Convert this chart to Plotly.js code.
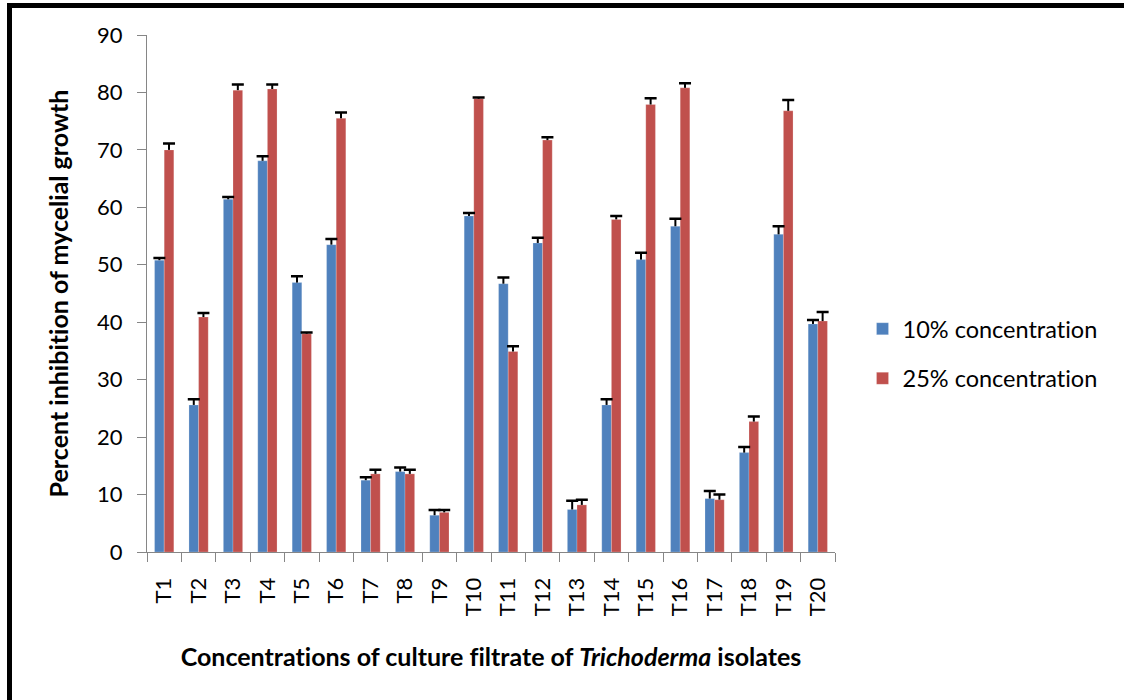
<!DOCTYPE html>
<html>
<head>
<meta charset="utf-8">
<script src="https://cdn.plot.ly/plotly-3.0.1.min.js"></script>
<style>
  html, body { margin: 0; padding: 0; background: #fff; }
  #wrap { position: relative; width: 1124px; height: 700px; overflow: hidden; }
  #chart { width: 1124px; height: 700px; }
  #chart text { font-variant-ligatures: none; font-feature-settings: "liga" 0, "clig" 0; }
  #frame { position: absolute; top: 3px; left: 7px; right: -10px; bottom: -10px;
           border-top: 5px solid #000; border-left: 5px solid #000; pointer-events: none; }
</style>
</head>
<body>
<div id="wrap">
  <div id="chart"></div>
  <div id="frame"></div>
</div>
<script>
// Categories (Trichoderma isolates)
const isolates = ["T1","T2","T3","T4","T5","T6","T7","T8","T9","T10",
                  "T11","T12","T13","T14","T15","T16","T17","T18","T19","T20"];

// Percent inhibition at 10% concentration
const conc10 = [50.8, 25.6, 61.4, 68.1, 46.9, 53.5, 12.5, 14.0, 6.4, 58.5,
                46.7, 53.8, 7.4, 25.6, 50.9, 56.7, 9.3, 17.3, 55.3, 39.7];
// Error (plus) at 10% concentration
const err10 = [0.4, 1.0, 0.4, 0.8, 1.1, 1.0, 0.5, 0.7, 0.9, 0.5,
               1.1, 0.9, 1.5, 1.0, 1.2, 1.3, 1.3, 1.0, 1.4, 0.7];

// Percent inhibition at 25% concentration
const conc25 = [70.0, 40.9, 80.4, 80.6, 38.0, 75.5, 13.6, 13.6, 6.9, 78.9,
                34.9, 71.7, 8.2, 57.9, 77.9, 80.8, 9.1, 22.7, 76.8, 40.2];
// Error (plus) at 25% concentration
const err25 = [1.1, 0.7, 1.0, 0.8, 0.2, 1.0, 0.7, 0.7, 0.4, 0.2,
               0.9, 0.5, 0.9, 0.6, 1.1, 0.8, 0.9, 0.9, 1.9, 1.6];

const seriesNames = ["10% concentration", "25% concentration"];
const yTicks = [0, 10, 20, 30, 40, 50, 60, 70, 80, 90];

const FONT = "Lato, 'Open Sans', 'DejaVu Sans', sans-serif";
const COLORS = ['#4F81BD', '#C0504D'];

// whisker only (no caps), going up from the bar top
function whisker(arr) {
  return { type: 'data', symmetric: false, array: arr, arrayminus: arr.map(() => 0),
           visible: true, color: '#000', thickness: 2, width: 0 };
}
// cap only, at the plus end
function capOnly(arr) {
  return { type: 'data', symmetric: false, array: arr, arrayminus: arr.map(v => -v),
           visible: true, color: '#000', thickness: 2.5, width: 6 };
}

const barLine = { color: 'rgba(255,255,255,0.35)', width: 0.6 };

const traces = [
  { type: 'bar', name: seriesNames[0], x: isolates, y: conc10, offsetgroup: 'g10',
    marker: { color: COLORS[0], line: barLine }, error_y: whisker(err10),
    legendgroup: 'a' },
  { type: 'bar', name: seriesNames[1], x: isolates, y: conc25, offsetgroup: 'g25',
    marker: { color: COLORS[1], line: barLine }, error_y: whisker(err25),
    legendgroup: 'b' },
  // caps of the error bars, on transparent copies of the same bars
  { type: 'bar', name: seriesNames[0] + ' caps', x: isolates, y: conc10, offsetgroup: 'g10',
    marker: { color: 'rgba(0,0,0,0)' }, error_y: capOnly(err10),
    showlegend: false, hoverinfo: 'skip', legendgroup: 'a' },
  { type: 'bar', name: seriesNames[1] + ' caps', x: isolates, y: conc25, offsetgroup: 'g25',
    marker: { color: 'rgba(0,0,0,0)' }, error_y: capOnly(err25),
    showlegend: false, hoverinfo: 'skip', legendgroup: 'b' }
];

const layout = {
  width: 1124, height: 700,
  paper_bgcolor: '#fff', plot_bgcolor: '#fff',
  margin: { l: 147, r: 289, t: 35, b: 148, pad: 0 },
  barmode: 'group', bargap: 0.44, bargroupgap: 0,
  font: { family: FONT, color: '#000', size: 20 },
  showlegend: true,
  legend: {
    x: 1.04, xanchor: 'left', y: 0.383, yanchor: 'middle',
    font: { family: FONT, size: 23.5, color: '#000' },
    traceorder: 'grouped', tracegroupgap: 16,
    bgcolor: 'rgba(0,0,0,0)', borderwidth: 0
  },
  xaxis: {
    type: 'category',
    tickson: 'boundaries', ticks: 'outside', ticklen: 9, tickcolor: '#868686', tickwidth: 1,
    showline: true, linecolor: '#868686', linewidth: 1,
    showgrid: false, zeroline: false,
    tickangle: -90, ticklabelstandoff: 16,
    tickfont: { family: FONT, size: 22, color: '#000' },
    title: {
      text: '<b>Concentrations of culture filtrate of <i>Trichoderma</i> isolates</b>',
      font: { family: FONT, size: 25, color: '#000' },
      standoff: 33
    },
    automargin: false, fixedrange: true
  },
  yaxis: {
    range: [0, 90], tickvals: yTicks, ticktext: yTicks.map(String),
    ticks: 'outside', ticklen: 9, tickcolor: '#868686', tickwidth: 1,
    showline: true, linecolor: '#868686', linewidth: 1,
    showgrid: false, zeroline: false,
    ticklabelstandoff: 10,
    tickfont: { family: FONT, size: 22, color: '#000' },
    title: {
      text: '<b>Percent inhibition of mycelial growth</b>',
      font: { family: FONT, size: 25, color: '#000' },
      standoff: 21
    },
    automargin: false, fixedrange: true
  }
};

Plotly.newPlot('chart', traces, layout, { displayModeBar: false, staticPlot: true });
</script>
</body>
</html>
